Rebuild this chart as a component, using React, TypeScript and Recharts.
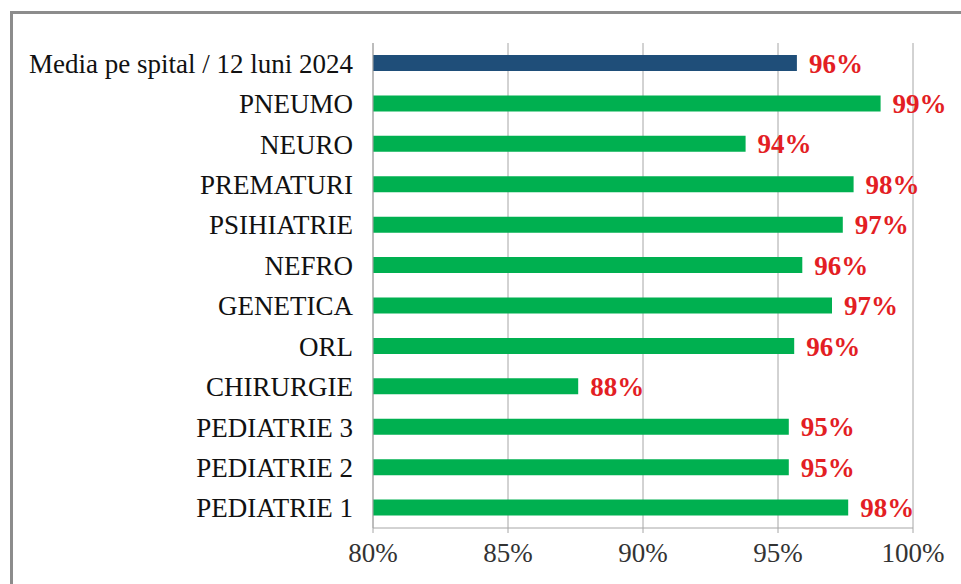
import { BarChart, Bar, XAxis, YAxis, CartesianGrid, Cell, LabelList } from 'recharts';

const sectii = [
  'Media pe spital / 12 luni 2024',
  'PNEUMO',
  'NEURO',
  'PREMATURI',
  'PSIHIATRIE',
  'NEFRO',
  'GENETICA',
  'ORL',
  'CHIRURGIE',
  'PEDIATRIE 3',
  'PEDIATRIE 2',
  'PEDIATRIE 1',
];
const procente = [95.7, 98.8, 93.8, 97.8, 97.4, 95.9, 97.0, 95.6, 87.6, 95.4, 95.4, 97.6];
const axaTicks = [80, 85, 90, 95, 100];

const data = sectii.map((name, i) => ({ name, value: procente[i] }));

const serif = '"Liberation Serif", "Times New Roman", serif';

export default function App() {
  return (
    <div style={{ position: 'absolute', left: 0, top: 0, width: 961, height: 584, overflow: 'hidden', background: '#fff' }}>
      <div
        style={{
          position: 'absolute',
          left: 10,
          top: 11,
          width: 1000,
          height: 640,
          border: '3px solid #8c8c8c',
          boxSizing: 'border-box',
        }}
      />
      <div style={{ position: 'absolute', left: 0, top: 0 }}>
        <BarChart
          width={961}
          height={584}
          data={data}
          layout="vertical"
          margin={{ top: 43, right: 48, bottom: 0, left: 0 }}
        >
          <CartesianGrid stroke="#a6a6a6" horizontal={false} />
          <XAxis
            type="number"
            domain={[80, 100]}
            ticks={axaTicks}
            tickFormatter={(v: number) => `${v}%`}
            height={56}
            stroke="#a6a6a6"
            tickSize={5}
            tickMargin={10}
            tick={{ fill: '#333', fontSize: 27, fontFamily: serif }}
          />
          <YAxis
            type="category"
            dataKey="name"
            width={373}
            stroke="#a6a6a6"
            tickLine={false}
            tickMargin={14}
            interval={0}
            tick={{ fill: '#111', fontSize: 27, fontFamily: serif }}
          />
          <Bar dataKey="value" barSize={16} isAnimationActive={false}>
            {data.map((d, i) => (
              <Cell key={d.name} fill={i === 0 ? '#1f4e79' : '#00b050'} />
            ))}
            <LabelList
              dataKey="value"
              position="right"
              offset={12}
              formatter={(v: number) => `${Math.round(v)}%`}
              style={{ fill: '#e31e24', fontSize: 27, fontWeight: 700, fontFamily: serif }}
            />
          </Bar>
        </BarChart>
      </div>
    </div>
  );
}
